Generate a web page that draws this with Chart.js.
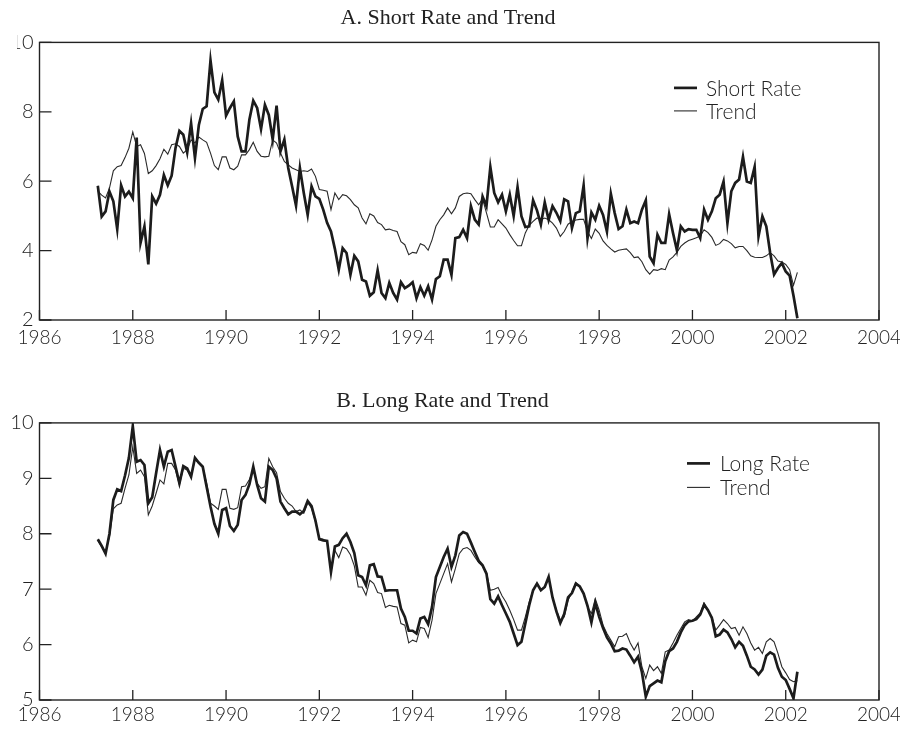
<!DOCTYPE html>
<html>
<head>
<meta charset="utf-8">
<script src="https://cdn.jsdelivr.net/npm/chart.js@4/dist/chart.umd.min.js"></script>
<style>
  html, body { margin: 0; padding: 0; background: #fff; }
  #wrap { position: relative; width: 900px; height: 729px; }
  .panel { position: absolute; left: 0; width: 900px; height: 349px; }
</style>
</head>
<body>
<div id="wrap">
  <div class="panel" style="top:0"><canvas id="chartShort"></canvas></div>
  <div class="panel" style="top:380px"><canvas id="chartLong"></canvas></div>
</div>
<script>
// monthly observations, April 1987 .. April 2002
const startYear = 1987;
const startMonth = 4;

const xTicks = [1986, 1988, 1990, 1992, 1994, 1996, 1998, 2000, 2002, 2004];
const yTicksShort = [2, 4, 6, 8, 10];
const yTicksLong = [5, 6, 7, 8, 9, 10];

const shortRate = [
  5.87, 4.98, 5.13, 5.70, 5.42, 4.62, 5.88, 5.56, 5.70, 5.51,
  7.26, 4.22, 4.70, 3.60, 5.56, 5.35, 5.61, 6.18, 5.88, 6.16,
  6.96, 7.45, 7.34, 6.83, 7.67, 6.67, 7.62, 8.08, 8.16, 9.48,
  8.56, 8.35, 8.91, 7.89, 8.11, 8.30, 7.29, 6.86, 6.86, 7.77,
  8.32, 8.11, 7.50, 8.20, 7.91, 7.20, 8.18, 6.86, 7.20, 6.38,
  5.85, 5.30, 6.38, 5.66, 5.03, 5.85, 5.56, 5.49, 5.18, 4.80,
  4.55, 4.05, 3.45, 4.07, 3.93, 3.30, 3.85, 3.69, 3.16, 3.11,
  2.70, 2.80, 3.43, 2.78, 2.63, 3.07, 2.78, 2.59, 3.09, 2.92,
  2.99, 3.09, 2.63, 2.95, 2.70, 2.97, 2.59, 3.18, 3.26, 3.74,
  3.74, 3.30, 4.36, 4.39, 4.60, 4.36, 5.28, 4.89, 4.75, 5.56,
  5.28, 6.41, 5.66, 5.39, 5.61, 5.13, 5.61, 5.00, 5.83, 4.99,
  4.68, 4.70, 5.45, 5.16, 4.75, 5.39, 4.89, 5.28, 5.09, 4.85,
  5.48, 5.42, 4.65, 5.08, 5.13, 5.88, 4.36, 5.10, 4.89, 5.29,
  5.03, 4.55, 5.64, 5.08, 4.62, 4.70, 5.18, 4.79, 4.84, 4.79,
  5.18, 5.45, 3.83, 3.64, 4.46, 4.22, 4.22, 5.05, 4.51, 4.01,
  4.70, 4.55, 4.62, 4.60, 4.60, 4.36, 5.18, 4.89, 5.13, 5.51,
  5.61, 5.99, 4.79, 5.71, 5.95, 6.05, 6.70, 5.99, 5.95, 6.41,
  4.41, 4.99, 4.70, 3.93, 3.31, 3.50, 3.64, 3.40, 3.28, 2.70,
  2.05
];

const shortTrend = [
  5.71, 5.60, 5.52, 5.80, 6.30, 6.42, 6.45, 6.68, 6.95, 7.42,
  7.00, 7.05, 6.80, 6.22, 6.30, 6.45, 6.65, 6.92, 6.78, 7.05,
  7.08, 7.00, 6.81, 6.91, 7.19, 7.10, 7.27, 7.19, 7.12, 6.81,
  6.45, 6.33, 6.70, 6.70, 6.38, 6.33, 6.43, 6.76, 6.76, 6.91,
  7.12, 6.86, 6.72, 6.70, 6.72, 7.19, 7.10, 6.81, 6.57, 6.47,
  6.38, 6.33, 6.28, 6.30, 6.28, 6.35, 6.14, 5.76, 5.74, 5.71,
  5.18, 5.66, 5.47, 5.61, 5.58, 5.47, 5.32, 5.23, 4.94, 4.77,
  5.06, 5.00, 4.81, 4.75, 4.60, 4.62, 4.58, 4.55, 4.26, 4.17,
  3.88, 3.95, 3.93, 4.20, 4.15, 4.01, 4.31, 4.70, 4.89, 5.03,
  5.23, 5.06, 5.23, 5.56, 5.64, 5.66, 5.64, 5.47, 5.32, 5.49,
  5.09, 4.68, 4.68, 4.89, 4.77, 4.65, 4.46, 4.29, 4.14, 4.14,
  4.51, 4.73, 4.84, 4.94, 4.89, 4.94, 4.89, 4.79, 4.65, 4.41,
  4.55, 4.76, 4.84, 4.88, 4.90, 4.90, 4.55, 4.35, 4.62, 4.50,
  4.28, 4.15, 4.05, 3.96, 4.01, 4.03, 4.05, 3.94, 3.80, 3.82,
  3.68, 3.45, 3.32, 3.45, 3.43, 3.48, 3.45, 3.73, 3.82, 3.95,
  4.12, 4.22, 4.29, 4.33, 4.37, 4.42, 4.60, 4.52, 4.38, 4.15,
  4.20, 4.32, 4.28, 4.20, 4.08, 4.12, 4.12, 4.00, 3.85, 3.81,
  3.80, 3.80, 3.85, 3.94, 3.85, 3.70, 3.67, 3.60, 3.45, 3.00,
  3.37
];

const longRate = [
  7.90, 7.78, 7.64, 8.00, 8.61, 8.80, 8.77, 9.05, 9.37, 9.94,
  9.30, 9.33, 9.24, 8.55, 8.66, 9.09, 9.51, 9.21, 9.48, 9.51,
  9.21, 8.91, 9.22, 9.18, 9.03, 9.37, 9.28, 9.21, 8.85, 8.49,
  8.18, 8.00, 8.43, 8.46, 8.14, 8.05, 8.16, 8.61, 8.70, 8.89,
  9.21, 8.88, 8.64, 8.58, 9.21, 9.15, 9.00, 8.58, 8.46, 8.35,
  8.40, 8.40, 8.35, 8.41, 8.59, 8.50, 8.24, 7.90, 7.88, 7.87,
  7.31, 7.77, 7.80, 7.92, 8.00, 7.85, 7.65, 7.25, 7.22, 7.07,
  7.43, 7.45, 7.23, 7.22, 6.97, 6.98, 6.98, 6.98, 6.65, 6.50,
  6.25, 6.25, 6.20, 6.47, 6.50, 6.37, 6.68, 7.22, 7.40, 7.58,
  7.73, 7.40, 7.61, 7.97, 8.03, 8.00, 7.84, 7.67, 7.51, 7.43,
  7.28, 6.82, 6.74, 6.87, 6.71, 6.56, 6.41, 6.20, 5.99, 6.05,
  6.38, 6.71, 6.98, 7.10, 6.98, 7.04, 7.22, 6.85, 6.60, 6.39,
  6.55, 6.85, 6.93, 7.10, 7.05, 6.92, 6.70, 6.40, 6.75, 6.50,
  6.30, 6.13, 6.02, 5.88, 5.89, 5.93, 5.91, 5.80, 5.68, 5.78,
  5.50, 5.06, 5.25, 5.30, 5.35, 5.32, 5.70, 5.88, 5.93, 6.05,
  6.22, 6.35, 6.42, 6.43, 6.46, 6.54, 6.72, 6.62, 6.48, 6.15,
  6.18, 6.27, 6.22, 6.10, 5.95, 6.05, 5.98, 5.80, 5.60, 5.55,
  5.46, 5.55, 5.80, 5.86, 5.82, 5.58, 5.42, 5.36, 5.20, 5.03,
  5.51
];

const longTrend = [
  7.88, 7.76, 7.66, 7.95, 8.45, 8.52, 8.55, 8.82, 9.06, 9.57,
  9.09, 9.15, 9.03, 8.34, 8.50, 8.73, 8.97, 8.90, 9.27, 9.27,
  9.15, 8.88, 9.18, 9.15, 9.03, 9.34, 9.27, 9.21, 8.91, 8.55,
  8.50, 8.44, 8.80, 8.80, 8.46, 8.44, 8.47, 8.85, 8.86, 8.98,
  9.15, 8.91, 8.82, 8.85, 9.36, 9.21, 9.10, 8.76, 8.64, 8.55,
  8.50, 8.40, 8.43, 8.37, 8.56, 8.46, 8.22, 7.92, 7.90, 7.86,
  7.31, 7.70, 7.57, 7.76, 7.73, 7.62, 7.42, 7.04, 7.04, 6.89,
  7.16, 7.10, 6.94, 6.92, 6.67, 6.71, 6.69, 6.68, 6.38, 6.35,
  6.03, 6.08, 6.05, 6.31, 6.29, 6.13, 6.44, 6.92, 7.10, 7.28,
  7.46, 7.13, 7.37, 7.64, 7.73, 7.75, 7.70, 7.58, 7.48, 7.42,
  7.30, 6.98, 7.00, 7.03, 6.88, 6.77, 6.62, 6.45, 6.26, 6.26,
  6.50, 6.77, 6.98, 7.10, 6.98, 7.04, 7.21, 6.85, 6.62, 6.44,
  6.50, 6.80, 6.95, 7.12, 7.04, 6.92, 6.68, 6.56, 6.83, 6.62,
  6.35, 6.20, 6.08, 5.96, 6.14, 6.15, 6.20, 6.03, 5.90, 6.03,
  5.60, 5.39, 5.63, 5.53, 5.60, 5.48, 5.87, 5.90, 6.03, 6.17,
  6.29, 6.41, 6.45, 6.42, 6.50, 6.57, 6.75, 6.62, 6.50, 6.26,
  6.35, 6.45, 6.38, 6.29, 6.31, 6.17, 6.32, 6.20, 6.03, 5.90,
  5.95, 5.84, 6.05, 6.11, 6.05, 5.84, 5.60, 5.49, 5.37, 5.33,
  5.35
];

const sansFont = 'Lato, "Open Sans", "Liberation Sans", sans-serif';

// month index -> fractional year
function toPoints(values) {
  return values.map((v, i) => ({ x: startYear + (startMonth - 1 + i) / 12, y: v }));
}

// box around plot, inward tick marks, legend inside the plot
const framePlugin = {
  id: 'frame',
  afterDatasetsDraw(chart, args, opts) {
    const ctx = chart.ctx;
    const a = chart.chartArea;
    const sx = chart.scales.x;
    const sy = chart.scales.y;
    ctx.save();
    ctx.strokeStyle = '#222';
    ctx.lineWidth = 1.4;
    ctx.strokeRect(a.left, a.top, a.right - a.left, a.bottom - a.top);
    ctx.lineWidth = 1.3;
    ctx.beginPath();
    xTicks.forEach(v => {
      const px = sx.getPixelForValue(v);
      ctx.moveTo(px, a.bottom);
      ctx.lineTo(px, a.bottom - 10);
    });
    opts.yTicks.forEach(v => {
      const py = sy.getPixelForValue(v);
      ctx.moveTo(a.left, py);
      ctx.lineTo(a.left + 12, py);
    });
    ctx.stroke();

    ctx.font = '300 21px ' + sansFont;
    ctx.textBaseline = 'middle';
    ctx.fillStyle = '#222';
    chart.data.datasets.forEach((ds, k) => {
      const y = a.top + opts.legendTop + k * opts.legendGap;
      const x0 = a.left + opts.legendLeft;
      ctx.strokeStyle = ds.borderColor;
      ctx.lineWidth = ds.borderWidth;
      ctx.beginPath();
      ctx.moveTo(x0, y);
      ctx.lineTo(x0 + 23, y);
      ctx.stroke();
      ctx.fillText(ds.label, x0 + 23 + opts.legendGapText, y + 1);
    });
    ctx.restore();
  }
};

function makeConfig(title, rate, trend, rateLabel, yMin, yMax, yTicks, pad, titlePad, yWidth, xPad, legend) {
  return {
    type: 'line',
    data: {
      datasets: [
        {
          label: rateLabel,
          data: toPoints(rate),
          borderColor: '#1c1c1c',
          borderWidth: 2.7,
          pointRadius: 0,
          tension: 0
        },
        {
          label: 'Trend',
          data: toPoints(trend),
          borderColor: '#2a2a2a',
          borderWidth: 1.1,
          pointRadius: 0,
          tension: 0
        }
      ]
    },
    options: {
      responsive: true,
      maintainAspectRatio: false,
      animation: false,
      layout: { padding: pad },
      scales: {
        x: {
          type: 'linear',
          min: 1986,
          max: 2004,
          afterBuildTicks: s => { s.ticks = xTicks.map(v => ({ value: v })); },
          afterFit: s => { s.height = 29; s.paddingLeft = 0; s.paddingRight = 0; },
          grid: { display: false, drawTicks: false },
          border: { display: false },
          ticks: {
            autoSkip: false,
            maxRotation: 0,
            padding: xPad,
            color: '#222',
            font: { family: sansFont, size: 19, weight: '300' },
            callback: v => String(v)
          }
        },
        y: {
          min: yMin,
          max: yMax,
          afterBuildTicks: s => { s.ticks = yTicks.map(v => ({ value: v })); },
          afterFit: s => { s.width = yWidth; s.paddingTop = 0; s.paddingBottom = 0; },
          grid: { display: false, drawTicks: false },
          border: { display: false },
          ticks: {
            padding: 6,
            color: '#222',
            font: { family: sansFont, size: 20, weight: '300' },
            callback: v => String(v)
          }
        }
      },
      plugins: {
        legend: { display: false },
        tooltip: { enabled: false },
        title: {
          display: true,
          text: title,
          color: '#222',
          font: { family: '"Liberation Serif", "Times New Roman", serif', size: 22, weight: 'normal' },
          padding: titlePad
        },
        frame: Object.assign({ yTicks: yTicks }, legend)
      }
    },
    plugins: [framePlugin]
  };
}

//Panel A: short rate
const configShort = makeConfig('A. Short Rate and Trend', shortRate, shortTrend, 'Short Rate',
  2, 10, yTicksShort,
  { left: 17, right: 21, top: 0, bottom: 0 },
  { top: 5, bottom: 11 },
  22.5, 6.5,
  { legendLeft: 634.5, legendTop: 45.5, legendGap: 23, legendGapText: 9 });
new Chart(document.getElementById('chartShort').getContext('2d'), configShort);

//Panel B: long rate
const configLong = makeConfig('B. Long Rate and Trend', longRate, longTrend, 'Long Rate',
  5, 10, yTicksLong,
  { left: 6, right: 21, top: 0, bottom: 0 },
  { top: 8.5, bottom: 8 },
  33.5, 3,
  { legendLeft: 647.5, legendTop: 40.5, legendGap: 24, legendGapText: 10 });
new Chart(document.getElementById('chartLong').getContext('2d'), configLong);
</script>
</body>
</html>
